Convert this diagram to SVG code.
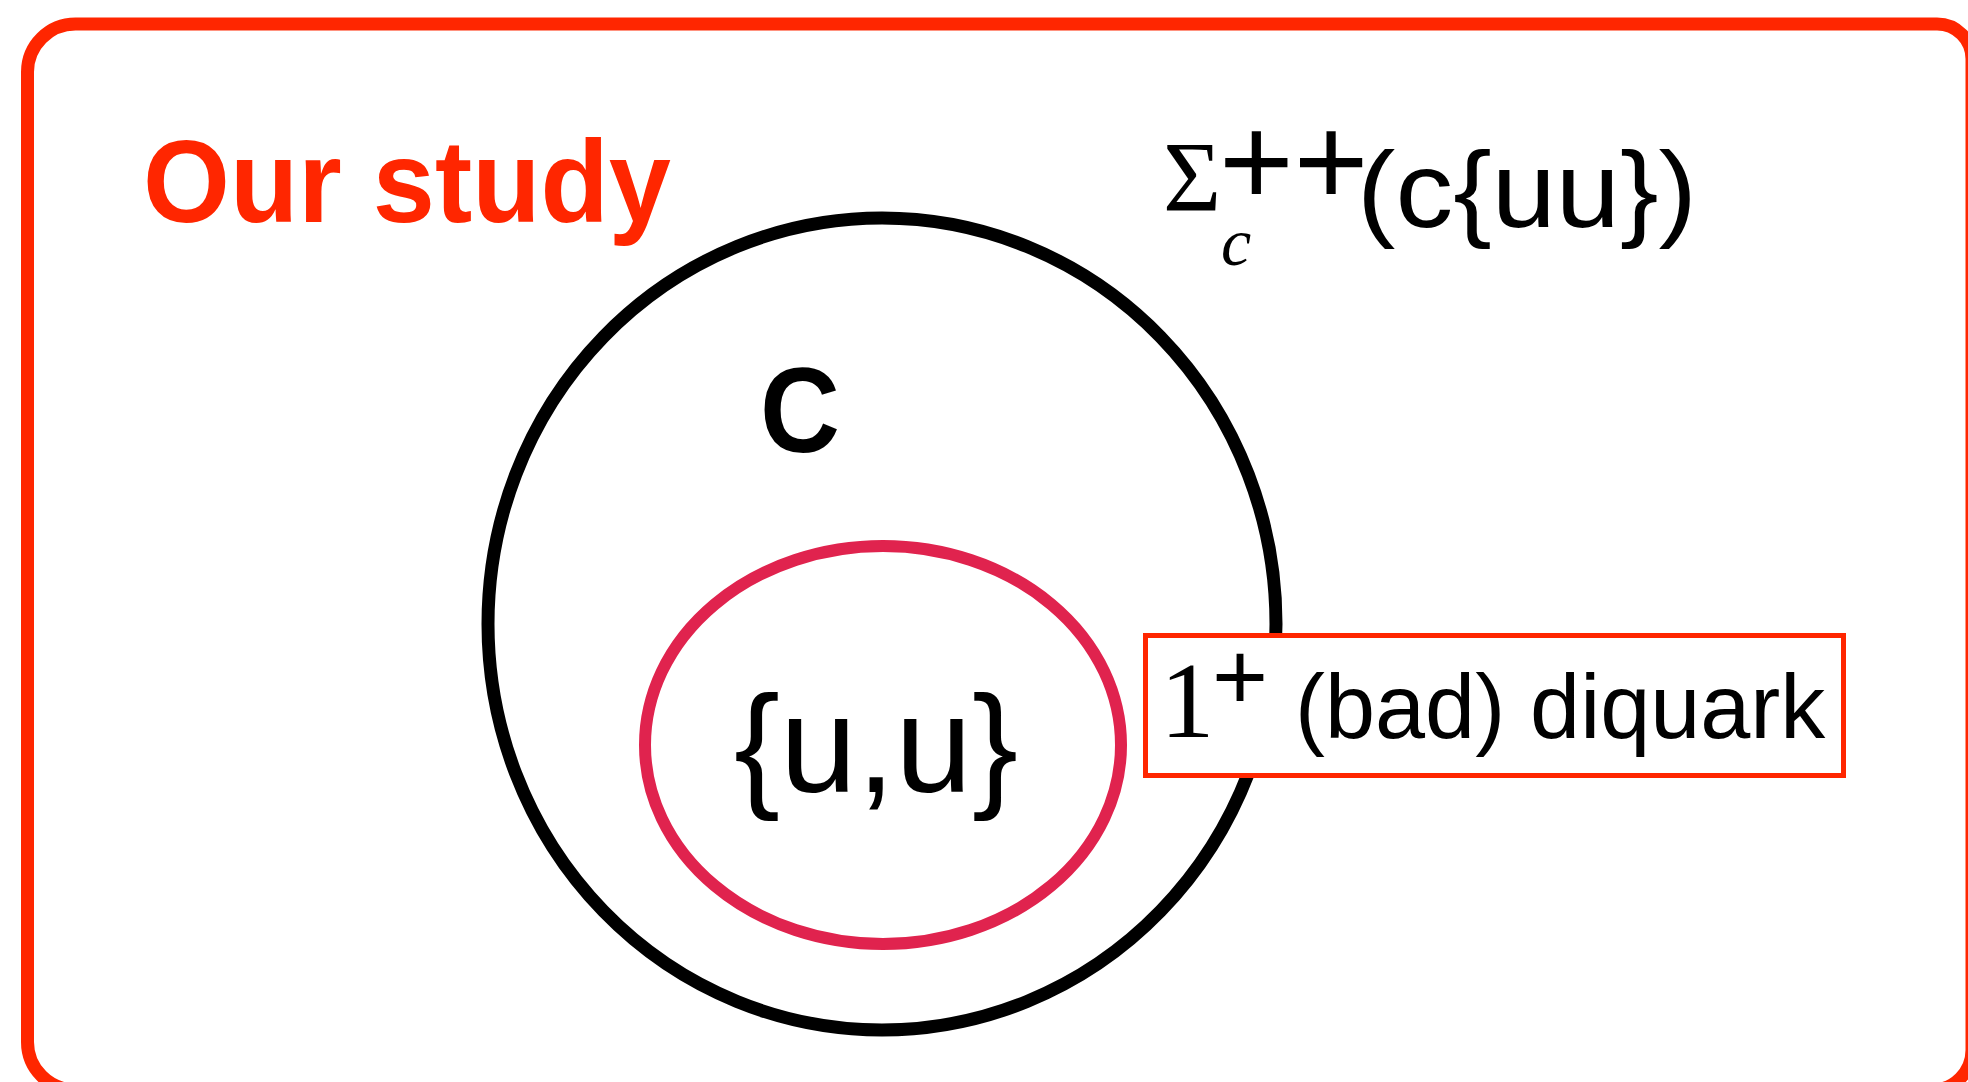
<svg xmlns="http://www.w3.org/2000/svg" width="1968" height="1082" viewBox="0 0 1968 1082">
  <style>
    .sans { font-family: "Liberation Sans", Arial, sans-serif; }
    .serif { font-family: "Liberation Serif", "Times New Roman", serif; }
    .red { fill: #FF2600; }
    .blk { fill: #000000; }
  </style>
  <rect width="1968" height="1082" fill="#ffffff"/>
  <g id="frame">
    <path d="M 75.5 24 L 1937 24 A 35 35 0 0 1 1972 59 L 1972 1050 A 40 40 0 0 1 1932 1090 L 75.5 1090 A 48 48 0 0 1 27.5 1042 L 27.5 72 A 48 48 0 0 1 75.5 24 Z" fill="none" stroke="#FF2600" stroke-width="13"/>
    <text class="sans red" x="143" y="222" font-size="117" font-weight="bold" textLength="528" lengthAdjust="spacingAndGlyphs">Our study</text>
  </g>
  <g id="outer-set">
    <ellipse cx="882" cy="624" rx="394" ry="406" fill="none" stroke="#000" stroke-width="13"/>
    <text class="sans blk" x="760" y="452" font-size="120" font-weight="bold" textLength="80" lengthAdjust="spacingAndGlyphs">C</text>
  </g>
  <g id="inner-set">
    <ellipse cx="883" cy="745" rx="238" ry="199" fill="none" stroke="#E0234E" stroke-width="12"/>
    <text class="sans blk" x="876" y="792" font-size="138" text-anchor="middle">{u,u}</text>
  </g>
  <g id="label-box">
    <rect x="1145.5" y="635.5" width="698" height="140" fill="#ffffff" stroke="#FF2600" stroke-width="5"/>
    <text class="blk" y="737"><tspan class="serif" x="1160" font-size="109">1</tspan><tspan class="sans" x="1212" y="710" font-size="96">+</tspan><tspan class="sans" x="1295" y="738" font-size="90">(bad) diquark</tspan></text>
  </g>
  <g id="formula">
    <text class="blk"><tspan class="serif" x="1163" y="210" font-size="100">Σ</tspan><tspan class="serif" x="1221" y="265" font-size="68" font-style="italic">c</tspan><tspan class="sans" x="1219" y="205" font-size="128">++</tspan><tspan class="sans" x="1357" y="227" font-size="108" textLength="340" lengthAdjust="spacingAndGlyphs">(c{uu})</tspan></text>
  </g>
  <g id="connectors"></g>
</svg>
